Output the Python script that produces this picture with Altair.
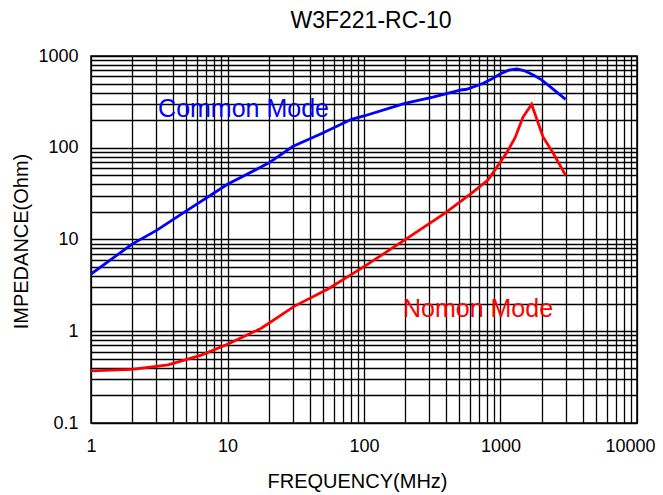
import altair as alt
import pandas as pd

# --- data ---
common_freq = [1, 2, 3, 4.9, 10, 20, 30, 49, 81, 100, 199, 320, 514, 565, 748, 861, 1000, 1150, 1320, 1500, 1740, 2000, 2306, 3000]
common_z = [4.2, 8.9, 12.5, 20.1, 40, 68, 103, 143, 204, 222, 305, 357, 426, 434, 504, 560, 640, 700, 722, 690, 621, 550, 463, 337]

normal_freq = [1, 2, 3.67, 6.43, 10, 17.7, 31, 54.5, 100, 199, 390, 611, 809, 1104, 1277, 1462, 1690, 2049, 2425, 3000]
normal_z = [0.37, 0.385, 0.43, 0.55, 0.72, 1.08, 1.88, 2.89, 5.06, 9.9, 19.3, 31.9, 44.5, 87, 128, 216, 298, 131, 88, 50]

series_names = ["Common Mode", "Nomon Mode"]
series_colors = ["#0000FF", "#FF0000"]

label_freq = [3.1, 193]
label_z = [216, 1.43]

x_decades = [1, 10, 100, 1000]
y_decades = [0.1, 1, 10, 100]
multipliers = [1, 2, 3, 4, 5, 6, 7, 8, 9]
x_labels = ["1", "10", "100", "1000", "10000"]
y_labels = ["0.1", "1", "10", "100", "1000"]

x_grid = [d * m for d in x_decades for m in multipliers] + [10000]
y_grid = [round(d * m, 6) for d in y_decades for m in multipliers] + [1000]

df = pd.concat([
    pd.DataFrame({"f": common_freq, "z": common_z, "series": series_names[0], "order": range(len(common_freq))}),
    pd.DataFrame({"f": normal_freq, "z": normal_z, "series": series_names[1], "order": range(len(normal_freq))}),
])
labels_df = pd.DataFrame({"f": label_freq, "z": label_z, "series": series_names})

font = "Liberation Sans"

x_enc = alt.X(
    "f:Q",
    scale=alt.Scale(type="log", domain=[1, 10000], nice=False),
    axis=alt.Axis(
        values=x_grid,
        format="~g",
        labelExpr="indexof(" + str(x_labels) + ", datum.label) >= 0 ? datum.label : ''",
        title="FREQUENCY(MHz)",
        titleX=266, titleY=64, titleBaseline="alphabetic", titleAlign="center",
        labelBaseline="alphabetic", labelPadding=28, labelFlush=False,
        labelOffset={"condition": {"test": "datum.value >= 10000", "value": -7}, "value": 0},
    ),
)
y_enc = alt.Y(
    "z:Q",
    scale=alt.Scale(type="log", domain=[0.1, 1000], nice=False),
    axis=alt.Axis(
        values=y_grid,
        format="~g",
        labelExpr="indexof(" + str(y_labels) + ", datum.label) >= 0 ? datum.label : ''",
        title="IMPEDANCE(Ohm)",
        titleX=-64, titleY=185, titleBaseline="alphabetic", titleAlign="center", titleAngle=270,
        labelPadding=13, labelFlush=False,
    ),
)
color_enc = alt.Color("series:N", scale=alt.Scale(domain=series_names, range=series_colors), legend=None)

lines = alt.Chart(df).mark_line(strokeWidth=2.8, clip=True).encode(
    x=x_enc, y=y_enc, color=color_enc, order="order:Q"
)

texts = alt.Chart(labels_df).mark_text(
    align="left", baseline="alphabetic", fontSize=25, font=font
).encode(x="f:Q", y="z:Q", text="series:N", color=color_enc)

chart = alt.layer(lines, texts).properties(
    width=546,
    height=367,
    padding={"left": 83, "top": 48, "right": 18, "bottom": 70},
    autosize=alt.AutoSizeParams(type="none"),
    title=alt.TitleParams(
        "W3F221-RC-10", fontSize=23, font=font, fontWeight="normal", color="#000",
        offset=14, dx=7, anchor="middle", frame="group",
    ),
).configure_view(
    stroke="#000", strokeWidth=1.5
).configure_axis(
    grid=True, gridColor="#000", gridOpacity=1, gridWidth=1.3,
    ticks=False, tickSize=0, domain=False,
    labelFont=font, labelFontSize=18, labelColor="#000",
    titleFont=font, titleFontSize=20, titleFontWeight="normal", titleColor="#000",
)

chart.save("out.html", embed_options={"renderer": "svg", "actions": False})
